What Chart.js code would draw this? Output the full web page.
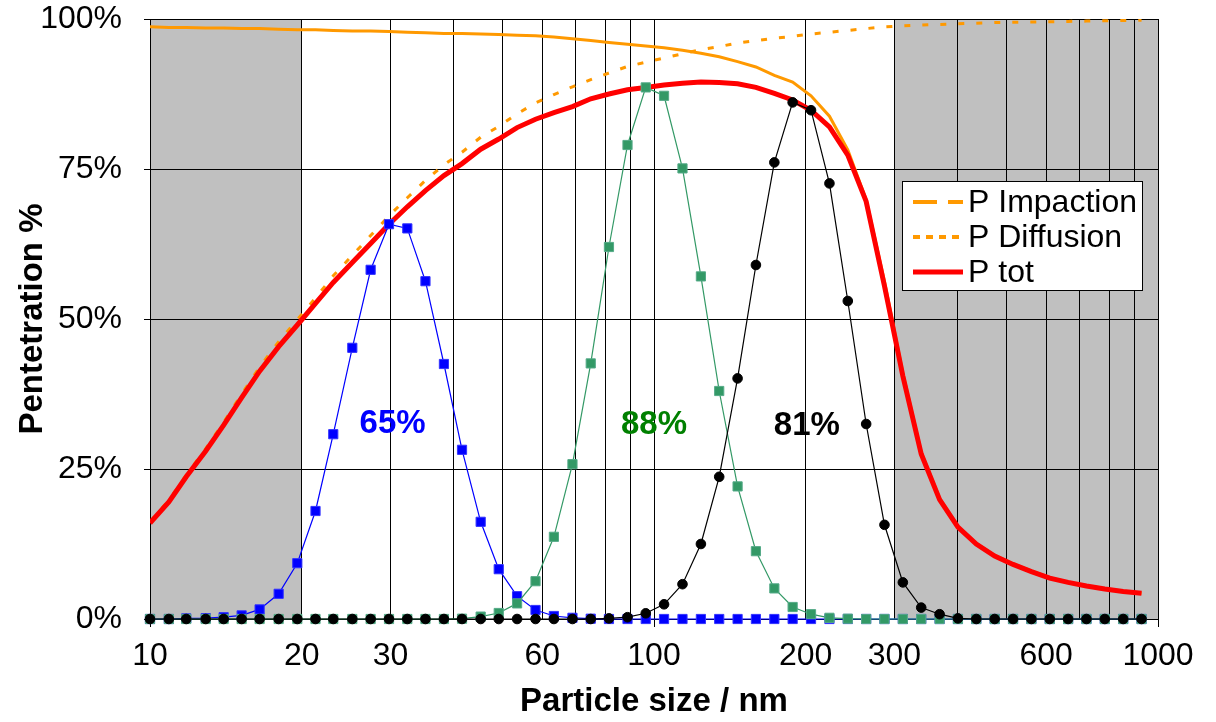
<!DOCTYPE html>
<html>
<head>
<meta charset="utf-8">
<script src="https://cdn.jsdelivr.net/npm/chart.js@4.4.1/dist/chart.umd.min.js"></script>
<style>
html,body{margin:0;padding:0;background:#fff;}
#wrap{width:1216px;height:722px;position:relative;}
</style>
</head>
<body>
<div id="wrap"><canvas id="c" width="1216" height="722"></canvas></div>
<script>
// ---------- DATA ----------
const sizes = [10.0,10.9,11.8,12.9,14.0,15.2,16.5,18.0,19.6,21.3,23.1,25.2,27.4,29.8,32.4,35.2,38.3,41.6,45.3,49.2,53.5,58.2,63.3,68.9,74.9,81.4,88.6,96.3,104.7,113.9,123.9,134.7,146.5,159.3,173.3,188.4,204.9,222.9,242.4,263.6,286.6,311.7,339.0,368.7,400.9,436.0,474.2,515.7,560.8,609.8,663.2,721.2,784.3,853.0,927.6];

const pImpaction = [98.7,98.6,98.6,98.5,98.5,98.4,98.4,98.3,98.2,98.2,98.1,98.0,98.0,97.9,97.8,97.7,97.6,97.6,97.5,97.4,97.3,97.2,97.0,96.7,96.4,96.1,95.8,95.5,95.2,94.8,94.3,93.7,92.9,92.0,90.6,89.5,87.2,83.8,78.2,69.9,56.3,41.0,27.8,20.1,15.4,12.6,10.6,9.2,8.0,6.9,6.1,5.5,5.0,4.6,4.3];

const pDiffusion = [16.2,19.8,24.0,28.4,32.8,37.5,42.0,46.2,49.9,53.5,57.2,60.6,63.9,67.2,70.2,73.1,75.7,77.8,80.3,82.1,84.2,86.0,87.4,88.7,89.9,91.0,92.1,92.8,93.5,94.2,94.9,95.4,96.0,96.4,96.8,97.1,97.5,97.8,98.1,98.4,98.7,98.85,99.0,99.1,99.2,99.3,99.4,99.45,99.5,99.55,99.6,99.65,99.7,99.75,99.8];

const pTot = [16.0,19.5,23.7,28.0,32.3,36.9,41.3,45.4,49.0,52.6,56.1,59.4,62.6,65.8,68.7,71.4,73.9,75.9,78.3,80.0,81.9,83.3,84.4,85.4,86.7,87.5,88.2,88.6,89.0,89.3,89.5,89.4,89.2,88.6,87.6,86.5,84.8,82.0,77.3,69.6,55.5,40.5,27.5,19.9,15.3,12.5,10.5,9.1,7.9,6.8,6.1,5.5,5.0,4.6,4.3];

const dist30 = [0,0,0.1,0.15,0.3,0.6,1.6,4.2,9.3,18.0,30.8,45.2,58.2,65.8,65.1,56.3,42.5,28.2,16.2,8.3,3.8,1.5,0.5,0.2,0.05,0,0,0,0,0,0,0,0,0,0,0,0,0,0,0,0,0,0,0,0,0,0,0,0,0,0,0,0,0,0];

const dist100 = [0,0,0,0,0,0,0,0,0,0,0,0,0,0,0,0,0,0.05,0.4,1.0,2.6,6.3,13.7,25.8,42.6,62.0,79.0,88.6,87.2,75.1,57.1,38.0,22.1,11.3,5.1,2.0,0.8,0.2,0.05,0,0,0,0,0,0,0,0,0,0,0,0,0,0,0,0];

const dist200 = [0,0,0,0,0,0,0,0,0,0,0,0,0,0,0,0,0,0,0,0,0,0,0,0,0,0.1,0.3,0.95,2.45,5.8,12.5,23.7,40.1,59.0,76.1,86.1,84.8,72.6,53.0,32.5,15.7,6.1,1.9,0.8,0.1,0,0,0,0,0,0,0,0,0,0];

const gridSizes = [10,20,30,40,50,60,70,80,90,100,200,300,400,500,600,700,800,900,1000];
const tickLabels = [10,20,30,60,100,200,300,600,1000];
const decadeTicks = [10,100,1000];
const yTicks = [0,25,50,75,100];
const shadedRanges = [[10,20],[300,1000]];

const noteTexts = ['65%','88%','81%'];
const noteX = [30.3,100,201];
const noteY = [32.5,32.3,32.2];
const noteColors = ['#0000FF','#008000','#000000'];

const seriesNames = ['P Impaction','P Diffusion','P tot'];

// ---------- STYLE ----------
const FONT = "'Liberation Sans', Arial, Helvetica, sans-serif";
const pts = arr => sizes.map((s,i)=>({x:s,y:arr[i]}));

const shadePlugin = {
  id:'shade',
  beforeDraw(chart){
    const {ctx, chartArea:a, scales:{x}} = chart;
    ctx.save();
    ctx.fillStyle='#ffffff';
    ctx.fillRect(0,0,chart.width,chart.height);
    ctx.fillStyle='#C0C0C0';
    shadedRanges.forEach(([lo,hi])=>{
      const x0=x.getPixelForValue(lo), x1=x.getPixelForValue(hi);
      ctx.fillRect(x0,a.top,x1-x0,a.bottom-a.top);
    });
    ctx.restore();
  }
};

const overlayPlugin = {
  id:'overlay',
  afterDraw(chart){
    const {ctx, chartArea:a, scales:{x,y}} = chart;
    ctx.save();
    // annotations
    ctx.font = "bold 33px " + FONT;
    ctx.textAlign='center';
    ctx.textBaseline='middle';
    noteTexts.forEach((t,i)=>{
      ctx.fillStyle=noteColors[i];
      ctx.fillText(t, x.getPixelForValue(noteX[i]), y.getPixelForValue(noteY[i]));
    });
    // legend
    const lw=240, lh=109;
    const lx=a.right-256, ly=a.top+162;
    ctx.fillStyle='#fff';
    ctx.fillRect(lx,ly,lw,lh);
    ctx.strokeStyle='#000';
    ctx.lineWidth=1;
    ctx.strokeRect(lx+0.5,ly+0.5,lw,lh);
    ctx.font = "32px " + FONT;
    ctx.textAlign='left';
    ctx.textBaseline='middle';
    for(let k=0;k<3;k++){
      const ds = chart.data.datasets[k];
      const cy = ly+21+k*35;
      ctx.beginPath();
      ctx.setLineDash(ds.legendDash||[]);
      ctx.strokeStyle=ds.borderColor;
      ctx.lineWidth=ds.legendWidth;
      ctx.moveTo(lx+11,cy);
      ctx.lineTo(lx+61,cy);
      ctx.stroke();
      ctx.setLineDash([]);
      ctx.fillStyle='#000';
      ctx.fillText(ds.label, lx+66, cy+1);
    }
    ctx.restore();
  }
};

const markerBase = {showLine:true, borderWidth:1.2, pointBorderWidth:1, clip:false, tension:0};

new Chart(document.getElementById('c'), {
  type:'line',
  data:{
    datasets:[
      {label:seriesNames[0], data:pts(pImpaction), borderColor:'#FF9900', borderWidth:3, pointRadius:0, order:6, legendDash:[24,11], legendWidth:4},
      {label:seriesNames[1], data:pts(pDiffusion), borderColor:'#FF9900', borderWidth:3, borderDash:[6,12], pointRadius:0, order:5, legendDash:[7,6], legendWidth:4},
      {label:seriesNames[2], data:pts(pTot), borderColor:'#FF0000', borderWidth:5, pointRadius:0, order:4, legendWidth:5},
      Object.assign({label:'30 nm', data:pts(dist30), borderColor:'#0000FF', backgroundColor:'#0000FF', pointBackgroundColor:'#0000FF', pointBorderColor:'#3333FF', pointStyle:'rect', pointRadius:6.5, order:3}, markerBase),
      Object.assign({label:'100 nm', data:pts(dist100), borderColor:'#339966', backgroundColor:'#339966', pointBackgroundColor:'#339966', pointBorderColor:'#55AA88', pointStyle:'rect', pointRadius:6.5, order:2}, markerBase),
      Object.assign({label:'200 nm', data:pts(dist200), borderColor:'#000000', backgroundColor:'#000000', pointBackgroundColor:'#000000', pointBorderColor:'#000000', pointStyle:'circle', pointRadius:4.8, order:1}, markerBase)
    ]
  },
  options:{
    responsive:false,
    animation:false,
    devicePixelRatio:1,
    layout:{padding:{left:0,right:58,top:19,bottom:0}},
    plugins:{legend:{display:false}, tooltip:{enabled:false}},
    elements:{line:{tension:0}},
    scales:{
      x:{
        type:'logarithmic', min:10, max:1000,
        afterBuildTicks:s=>{ s.ticks = gridSizes.map(v=>({value:v})); },
        afterFit:s=>{ s.height=103; s.paddingLeft=0; s.paddingRight=0; },
        ticks:{autoSkip:false, maxRotation:0, minRotation:0, padding:10, color:'#000',
               font:{family:FONT,size:32},
               callback:(v)=> tickLabels.includes(Number(v)) ? String(v) : ''},
        grid:{color:'#000', lineWidth:1, tickLength:8,
              tickColor:c=> (c.tick && decadeTicks.includes(c.tick.value)) ? '#000' : 'rgba(0,0,0,0)'},
        border:{color:'#000', width:1},
        title:{display:true, text:'Particle size / nm', color:'#000',
               font:{family:FONT,size:33,weight:'bold'}, padding:{top:0,bottom:0}}
      },
      y:{
        min:0, max:100,
        afterBuildTicks:s=>{ s.ticks = yTicks.map(v=>({value:v})); },
        afterFit:s=>{ s.width=150; s.paddingTop=0; s.paddingBottom=0; },
        ticks:{padding:22, color:'#000', font:{family:FONT,size:32}, callback:v=>v+'%'},
        grid:{color:'#000', lineWidth:1, tickLength:6},
        border:{color:'#000', width:1},
        title:{display:true, text:'Pentetration %', color:'#000',
               font:{family:FONT,size:33,weight:'bold'}, padding:{top:13,bottom:0}}
      }
    }
  },
  plugins:[shadePlugin, overlayPlugin]
});
</script>
</body>
</html>
